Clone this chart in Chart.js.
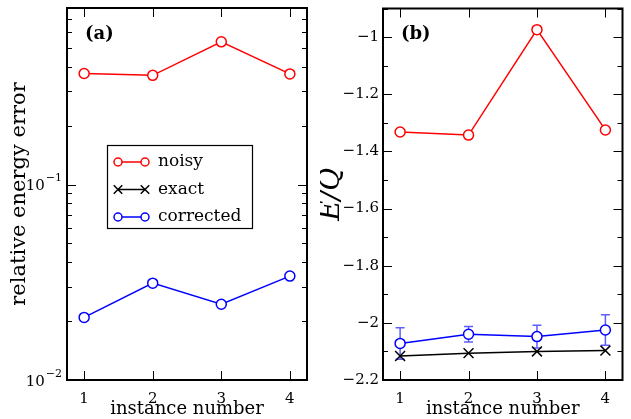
<!DOCTYPE html>
<html><head><meta charset="utf-8">
<script src="https://cdn.jsdelivr.net/npm/chart.js@4/dist/chart.umd.min.js"></script>
<style>
html,body{margin:0;padding:0;background:#fff;overflow:hidden;width:631px;height:419px}
#ca{position:absolute;left:0;top:0}
#cb{position:absolute;left:320px;top:0}
</style></head>
<body>
<canvas id="ca" width="320" height="419"></canvas>
<canvas id="cb" width="311" height="419"></canvas>
<script>
// ---- data ----
const instances = [1, 2, 3, 4];
const seriesLabels = ['noisy', 'exact', 'corrected'];
const relErrNoisy = [0.370, 0.362, 0.537, 0.368];
const relErrCorrected = [0.0209, 0.0313, 0.0244, 0.0340];
const energyNoisy = [-1.332, -1.343, -0.974, -1.325];
const energyExact = [-2.116, -2.106, -2.100, -2.097];
const energyCorrected = [-2.072, -2.040, -2.048, -2.025];
const energyCorrectedErr = [0.055, 0.027, 0.040, 0.053];
// ---- ticks ----
const xTicks = [1, 2, 3, 4];
const logMajorTicks = [0.01, 0.1];
const logMinorTicks = [0.02,0.03,0.04,0.05,0.06,0.07,0.08,0.09,0.2,0.3,0.4,0.5,0.6,0.7,0.8];
const energyMajorTicks = [-2.2, -2.0, -1.8, -1.6, -1.4, -1.2, -1.0];
const energyMinorTicks = [-2.1, -1.9, -1.7, -1.5, -1.3, -1.1, -0.9];

const FONT = 'DejaVu Serif';
Chart.defaults.font.family = FONT;
Chart.defaults.color = '#000';

const pts = arr => instances.map((x, i) => ({x: x, y: arr[i]}));

function drawMarker(ctx, style, x, y, r) {
  ctx.beginPath();
  if (style === 'crossRot') {
    const d = r * Math.SQRT1_2;
    ctx.moveTo(x - d, y - d); ctx.lineTo(x + d, y + d);
    ctx.moveTo(x - d, y + d); ctx.lineTo(x + d, y - d);
    ctx.stroke();
  } else {
    ctx.arc(x, y, r, 0, Math.PI * 2);
    ctx.fillStyle = '#fff'; ctx.fill(); ctx.stroke();
  }
}

const framePlugin = {
  id: 'frame',
  afterDraw(chart, args, opts) {
    const ctx = chart.ctx;
    const {left, right, top, bottom} = chart.chartArea;
    const xs = chart.scales.x, ys = chart.scales.y;
    ctx.save();
    ctx.strokeStyle = '#000';
    ctx.lineWidth = 1;
    ctx.beginPath();
    opts.xMajor.forEach(v => {
      const p = Math.round(xs.getPixelForValue(v)) + 0.5;
      ctx.moveTo(p, bottom); ctx.lineTo(p, bottom - 9);
      ctx.moveTo(p, top); ctx.lineTo(p, top + 9);
    });
    opts.yMajor.forEach(v => {
      const p = Math.round(ys.getPixelForValue(v)) + 0.5;
      ctx.moveTo(left, p); ctx.lineTo(left + 9, p);
      ctx.moveTo(right, p); ctx.lineTo(right - 9, p);
    });
    opts.yMinor.forEach(v => {
      const p = Math.round(ys.getPixelForValue(v)) + 0.5;
      ctx.moveTo(left, p); ctx.lineTo(left + 5, p);
      ctx.moveTo(right, p); ctx.lineTo(right - 5, p);
    });
    ctx.stroke();
    ctx.lineWidth = 2;
    ctx.strokeRect(left, top, right - left, bottom - top);
    if (opts.logLabels) {
      ctx.fillStyle = '#000';
      ctx.textBaseline = 'middle';
      opts.yMajor.forEach(v => {
        const p = ys.getPixelForValue(v);
        const e = Math.round(Math.log10(v));
        const sup = '\u2212' + Math.abs(e);
        ctx.font = '11px "' + FONT + '"';
        const sw = ctx.measureText(sup).width;
        ctx.textAlign = 'right';
        ctx.fillText(sup, left - 5, p - 6);
        ctx.font = '15px "' + FONT + '"';
        ctx.fillText('10', left - 5 - sw - 1, p + 2);
      });
    }
    if (opts.panel) {
      ctx.font = 'bold 18px "' + FONT + '"';
      ctx.textAlign = 'left';
      ctx.textBaseline = 'middle';
      ctx.fillStyle = '#000';
      ctx.fillText(opts.panel, left + 18, top + 26);
    }
    ctx.restore();
  }
};

const legendPlugin = {
  id: 'boxLegend',
  afterDraw(chart, args, opts) {
    if (!opts.show) return;
    const ctx = chart.ctx;
    const bx = 107, by = 145, bw = 145, bh = 83;
    ctx.save();
    ctx.fillStyle = '#fff';
    ctx.fillRect(bx, by, bw, bh);
    ctx.strokeStyle = '#000'; ctx.lineWidth = 1.2;
    ctx.strokeRect(bx + 0.5, by + 0.5, bw, bh);
    chart.data.datasets.forEach((ds, i) => {
      const y = by + 17 + i * 27.5;
      ctx.strokeStyle = ds.borderColor; ctx.lineWidth = 1.5;
      ctx.beginPath(); ctx.moveTo(118, y); ctx.lineTo(145, y); ctx.stroke();
      const r = ds.pointStyle === 'crossRot' ? 6 : 4;
      drawMarker(ctx, ds.pointStyle, 118, y, r);
      drawMarker(ctx, ds.pointStyle, 145, y, r);
      ctx.fillStyle = '#000';
      ctx.font = '17px "' + FONT + '"';
      ctx.textAlign = 'left'; ctx.textBaseline = 'middle';
      ctx.fillText(ds.label, 158, y);
    });
    ctx.restore();
  }
};

const errPlugin = {
  id: 'errBars',
  beforeDatasetsDraw(chart, args, opts) {
    if (!opts.err) return;
    const ctx = chart.ctx;
    const xs = chart.scales.x, ys = chart.scales.y;
    ctx.save();
    ctx.strokeStyle = 'rgba(40,40,255,0.75)';
    ctx.lineWidth = 1.5;
    ctx.beginPath();
    opts.values.forEach((v, i) => {
      const x = xs.getPixelForValue(instances[i]);
      const y1 = ys.getPixelForValue(v + opts.err[i]);
      const y2 = ys.getPixelForValue(v - opts.err[i]);
      ctx.moveTo(x, y1); ctx.lineTo(x, y2);
      ctx.moveTo(x - 4.5, y1); ctx.lineTo(x + 4.5, y1);
      ctx.moveTo(x - 4.5, y2); ctx.lineTo(x + 4.5, y2);
    });
    ctx.stroke();
    ctx.restore();
  }
};

function ds(label, data, color, style) {
  return {
    label: label, data: data, borderColor: color, backgroundColor: '#fff',
    borderWidth: 1.5, pointStyle: style,
    pointRadius: style === 'crossRot' ? 7 : 5,
    pointBorderWidth: 1.5, pointBackgroundColor: '#fff', pointBorderColor: color,
    pointHoverRadius: 5, tension: 0, clip: false
  };
}

function yFit(w) {
  return s => { s.width = w; s.paddingTop = 0; s.paddingBottom = 0; };
}

const xScale = {
  type: 'linear', min: 0.75, max: 4.25,
  afterBuildTicks: s => { s.ticks = xTicks.map(v => ({value: v})); },
  afterFit: s => { s.height = 39; s.paddingLeft = 0; s.paddingRight = 0; },
  grid: {display: false, drawTicks: false}, border: {display: false},
  ticks: {font: {size: 15}, padding: 10, callback: v => String(v), maxRotation: 0},
  title: {display: true, text: 'instance number', font: {size: 18, lineHeight: 1}, padding: {top: 0, bottom: 0.5}}
};

new Chart(document.getElementById('ca'), {
  type: 'line',
  data: {datasets: [
    ds(seriesLabels[0], pts(relErrNoisy), '#ff0000', 'circle'),
    ds(seriesLabels[1], [], '#000000', 'crossRot'),
    ds(seriesLabels[2], pts(relErrCorrected), '#0000ff', 'circle')
  ]},
  options: {
    responsive: false, animation: false, events: [],
    layout: {padding: {top: 8, right: 13, left: 0, bottom: 0}},
    plugins: {legend: {display: false}, tooltip: {enabled: false},
      frame: {xMajor: xTicks, yMajor: logMajorTicks, yMinor: logMinorTicks, logLabels: true, panel: '(a)'},
      boxLegend: {show: true}, errBars: {}},
    scales: {
      x: xScale,
      y: {
        type: 'logarithmic', min: 0.01, max: 0.8,
        afterBuildTicks: s => { s.ticks = logMajorTicks.map(v => ({value: v})); },
        afterFit: yFit(67),
        grid: {display: false, drawTicks: false}, border: {display: false},
        ticks: {display: false},
        title: {display: true, text: 'relative energy error', font: {size: 21, lineHeight: 1}, padding: {top: 9, bottom: 0}}
      }
    }
  },
  plugins: [framePlugin, legendPlugin, errPlugin]
});

new Chart(document.getElementById('cb'), {
  type: 'line',
  data: {datasets: [
    ds(seriesLabels[0], pts(energyNoisy), '#ff0000', 'circle'),
    ds(seriesLabels[1], pts(energyExact), '#000000', 'crossRot'),
    ds(seriesLabels[2], pts(energyCorrected), '#0000ff', 'circle')
  ]},
  options: {
    responsive: false, animation: false, events: [],
    layout: {padding: {top: 8, right: 8, left: 0, bottom: 0}},
    plugins: {legend: {display: false}, tooltip: {enabled: false},
      frame: {xMajor: xTicks, yMajor: energyMajorTicks, yMinor: energyMinorTicks, logLabels: false, panel: '(b)'},
      boxLegend: {show: false},
      errBars: {values: energyCorrected, err: energyCorrectedErr}},
    scales: {
      x: Object.assign({}, xScale),
      y: {
        type: 'linear', min: -2.2, max: -0.9,
        afterBuildTicks: s => { s.ticks = energyMajorTicks.map(v => ({value: v})); },
        afterFit: yFit(63),
        grid: {display: false, drawTicks: false}, border: {display: false},
        ticks: {font: {size: 15}, padding: 4,
          callback: v => (v < 0 ? '\u2212' : '') + (Math.round(Math.abs(v) * 10) / 10).toString()},
        title: {display: true, text: 'E/Q', font: {size: 28, style: 'italic', lineHeight: 1}, padding: {top: -2, bottom: 0}}
      }
    }
  },
  plugins: [framePlugin, legendPlugin, errPlugin]
});
</script>
</body></html>
